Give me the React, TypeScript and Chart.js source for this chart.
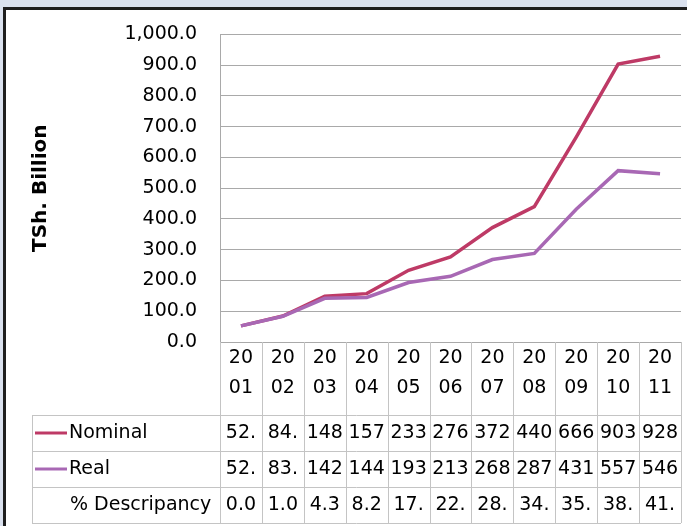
import React, { useEffect, useRef } from "react";
import { Chart, registerables } from "chart.js";

Chart.register(...registerables);

const categories = ["2001", "2002", "2003", "2004", "2005", "2006", "2007", "2008", "2009", "2010", "2011"];
const nominal = [52.4, 84.3, 148.5, 157.2, 233.1, 276.4, 372.0, 440.3, 666.2, 903.5, 928.7];
const real = [52.4, 83.5, 142.1, 144.6, 193.3, 213.7, 268.2, 287.9, 431.4, 557.0, 546.8];
const discrepancy = [0.0, 1.0, 4.3, 8.2, 17.2, 22.8, 28.0, 34.6, 35.3, 38.3, 41.2];
const seriesNames = ["Nominal", "Real", "% Descripancy"];
const yAxisTitle = "TSh. Billion";

const NOMINAL_COLOR = "#be3a66";
const REAL_COLOR = "#a868b4";
const FONT = "'DejaVu Sans', sans-serif";

const framePlugin = {
  id: "frame",
  beforeDraw(chart: any) {
    const { ctx, width, height } = chart;
    ctx.save();
    ctx.fillStyle = "#ffffff";
    ctx.fillRect(0, 0, width, height);
    ctx.fillStyle = "#dae1ee";
    ctx.fillRect(0, 0, width, 7);
    ctx.fillRect(0, 0, 3, height);
    ctx.fillStyle = "#1e1e1e";
    ctx.fillRect(3, 7, width - 3, 3);
    ctx.fillRect(3, 7, 3, height - 7);
    ctx.restore();
  },
};

const tablePlugin = {
  id: "dataTable",
  afterDraw(chart: any) {
    const { ctx } = chart;
    const x = chart.scales.x;
    const n = categories.length;
    const colW = (x.right - x.left) / n;
    const top = x.bottom;
    const rowH = 36;
    const rows = [
      { label: seriesNames[0], color: NOMINAL_COLOR, values: nominal },
      { label: seriesNames[1], color: REAL_COLOR, values: real },
      { label: seriesNames[2], color: null as string | null, values: discrepancy },
    ];
    const tableLeft = 32;
    const bottom = top + rowH * rows.length;
    ctx.save();
    ctx.strokeStyle = "#c4c4c4";
    ctx.lineWidth = 1;
    ctx.beginPath();
    for (let i = 0; i <= n; i++) {
      const px = Math.round(x.left + i * colW) + 0.5;
      ctx.moveTo(px, x.top);
      ctx.lineTo(px, bottom);
    }
    for (let r = 0; r <= rows.length; r++) {
      const py = Math.round(top + r * rowH) + 0.5;
      ctx.moveTo(tableLeft, py);
      ctx.lineTo(x.right, py);
    }
    ctx.moveTo(tableLeft + 0.5, top);
    ctx.lineTo(tableLeft + 0.5, bottom);
    ctx.stroke();

    ctx.font = `19px ${FONT}`;
    ctx.fillStyle = "#000000";
    ctx.textBaseline = "middle";
    rows.forEach((row, r) => {
      const cy = top + r * rowH + rowH / 2;
      if (row.color) {
        ctx.strokeStyle = row.color;
        ctx.lineWidth = 3;
        ctx.beginPath();
        ctx.moveTo(35, cy);
        ctx.lineTo(67, cy);
        ctx.stroke();
      }
      ctx.textAlign = "left";
      ctx.fillText(row.label, row.color ? 69 : 70, cy);
      ctx.textAlign = "center";
      row.values.forEach((v, i) => {
        const txt = v.toFixed(1).slice(0, 3);
        ctx.fillText(txt, x.getPixelForValue(i), cy);
      });
    });
    ctx.restore();
  },
};

export default function App() {
  const ref = useRef<HTMLCanvasElement | null>(null);

  useEffect(() => {
    if (!ref.current) return;
    const chart = new Chart(ref.current, {
      type: "line",
      data: {
        labels: categories,
        datasets: [
          {
            label: seriesNames[0],
            data: nominal,
            borderColor: NOMINAL_COLOR,
            backgroundColor: NOMINAL_COLOR,
            borderWidth: 3.5,
            pointRadius: 0,
            tension: 0,
            order: 1,
          },
          {
            label: seriesNames[1],
            data: real,
            borderColor: REAL_COLOR,
            backgroundColor: REAL_COLOR,
            borderWidth: 3.5,
            pointRadius: 0,
            tension: 0,
            order: 0,
          },
        ],
      },
      options: {
        animation: false,
        responsive: false,
        maintainAspectRatio: false,
        layout: { padding: { top: 31, right: 6, bottom: 111, left: 0 } },
        plugins: {
          legend: { display: false },
          tooltip: { enabled: false },
        },
        scales: {
          x: {
            type: "category",
            offset: true,
            grid: { display: false, drawTicks: false },
            border: { display: false },
            ticks: {
              color: "#000000",
              padding: 1,
              maxRotation: 0,
              autoSkip: false,
              font: { family: FONT, size: 19, lineHeight: 30 / 19 },
              callback: (_v: any, i: number) => [categories[i].slice(0, 2), categories[i].slice(2)],
            },
            afterFit: (scale: any) => {
              scale.height = 73;
            },
          },
          y: {
            min: 0,
            max: 1000,
            ticks: {
              stepSize: 100,
              color: "#000000",
              padding: 23,
              font: { family: FONT, size: 19 },
              callback: (v: any) =>
                Number(v).toLocaleString("en-US", { minimumFractionDigits: 1, maximumFractionDigits: 1 }),
            },
            grid: { color: "#a9a9a9", lineWidth: 1, drawTicks: false },
            border: { display: true, color: "#a9a9a9", width: 1 },
            title: {
              display: true,
              text: yAxisTitle,
              color: "#000000",
              font: { family: FONT, size: 20, weight: "bold", lineHeight: 1.2 },
              padding: { top: 29, bottom: 0 },
            },
            afterFit: (scale: any) => {
              scale.width = 220;
            },
          },
        },
      },
      plugins: [framePlugin, tablePlugin],
    });
    return () => chart.destroy();
  }, []);

  return (
    <div style={{ position: "fixed", left: 0, top: 0, width: 687, height: 526 }}>
      <canvas ref={ref} width={687} height={526} style={{ display: "block", width: 687, height: 526 }} />
    </div>
  );
}
